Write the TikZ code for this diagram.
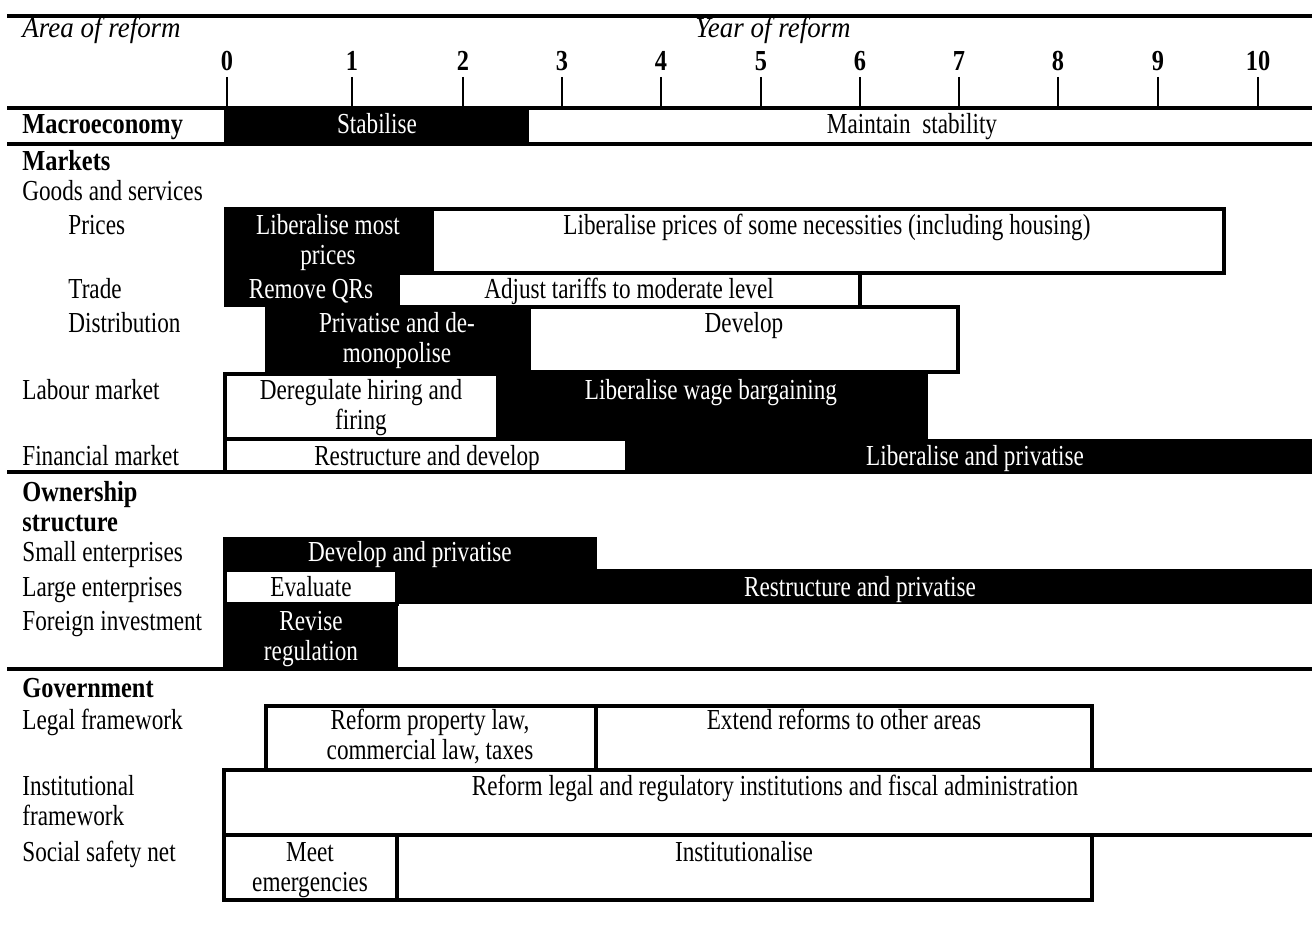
\documentclass[tikz,border=0pt]{standalone}
\usepackage{fontspec}
\setmainfont{Liberation Serif}[FakeStretch=0.8,
	BoldFeatures={FakeStretch=0.84}, ItalicFeatures={FakeStretch=0.93}]
\newcommand\cellfont{\fontsize{14.5}{15}\selectfont}
\begin{document}
\begin{tikzpicture}[x=0.5pt, y=-0.5pt, font={\cellfont}]
	\tikzstyle{rule} = [line width=2pt];
	\tikzstyle{tick} = [line width=1pt];
	\tikzstyle{dark} = [fill=black];
	\tikzstyle{light} = [draw, fill=white, line width=2pt];
	\tikzstyle{area} = [anchor=base west, inner sep=0pt, align=left];
	\tikzstyle{group} = [area, font={\cellfont\bfseries}];
	\tikzstyle{task} = [anchor=base, inner sep=0pt, align=center];
	\tikzstyle{inverse} = [task, text=white];

	\useasboundingbox (0,0) rectangle (1312,925);

	% bars of the time chart
	\foreach \xa/\ya/\xb/\yb in {224/108/529/144, 224/207/432/273, 224/273/398/307, 265/307/529/373,
		223/372/928/439, 627/439/1312/472, 223/537/597/570, 223/569/1312/604, 223/604/398/669} {
		\fill[dark] (\xa,\ya) rectangle (\xb,\yb);
	}
	\foreach \xa/\ya/\xb/\yb in {432/209/1224/273, 398/273/860/307, 529/307/958/372,
		225/374/498/439, 225/439/627/472, 225/570/397/604} {
		\draw[light] (\xa,\ya) rectangle (\xb,\yb);
	}
	\draw[light] (266,706) rectangle (1092,770);
	\draw[light] (596,706) -- (596,770);
	\draw[light, fill=none] (1312,770) -- (224,770) -- (224,835) -- (1312,835);
	\draw[light] (224,835) rectangle (1092,900);
	\draw[light] (397,835) -- (397,900);

	\foreach \yl in {16,108,144,472,669} {
		\draw[rule] (7,\yl) -- (1312,\yl);
	}

	% header
	\node[area, font={\cellfont\itshape}] (area) at (22,38) {Area of reform};
	\node[task, font={\cellfont\itshape}] (year) at (773,38) {Year of reform};
	\foreach \yr/\xp in {0/227,1/352,2/463,3/562,4/661,5/761,6/860,7/959,8/1058,9/1158,10/1258} {
		\node[task, font={\cellfont\bfseries}] (yr\yr) at (\xp,71) {\yr};
		\draw[tick] (\xp,77) -- (\xp,108);
	}

	% areas of reform (two-line nodes sit on their last line)
	\node[group] (macro) at (22,134) {Macroeconomy};
	\node[group] (markets) at (22,171) {Markets};
	\node[area] (goods) at (22,201) {Goods and services};
	\node[area] (prices) at (68,235) {Prices};
	\node[area] (trade) at (68,299) {Trade};
	\node[area] (distrib) at (68,333) {Distribution};
	\node[area] (labour) at (22,399) {Labour market};
	\node[area] (financial) at (22,465) {Financial market};
	\node[group] (owner) at (22,531) {Ownership\\structure};
	\node[area] (small) at (22,561) {Small enterprises};
	\node[area] (large) at (22,596) {Large enterprises};
	\node[area] (foreign) at (22,630) {Foreign investment};
	\node[group] (govt) at (22,697) {Government};
	\node[area] (legal) at (22,729) {Legal framework};
	\node[area] (instit) at (22,825) {Institutional\\framework};
	\node[area] (social) at (22,861) {Social safety net};

	% tasks
	\node[inverse] (stab) at (377,134) {Stabilise};
	\node[task] (maint) at (912,134) {Maintain~ stability};
	\node[inverse] (libmost) at (328,265) {Liberalise most\\prices};
	\node[task] (libsome) at (827,235) {Liberalise prices of some necessities (including housing)};
	\node[inverse] (qrs) at (311,299) {Remove QRs};
	\node[task] (tariffs) at (629,299) {Adjust tariffs to moderate level};
	\node[inverse] (demono) at (397,363) {Privatise and de-\\monopolise};
	\node[task] (develop) at (744,333) {Develop};
	\node[task] (dereg) at (361,429) {Deregulate hiring and\\firing};
	\node[inverse] (wage) at (711,399) {Liberalise wage bargaining};
	\node[task] (restdev) at (427,465) {Restructure and develop};
	\node[inverse] (libpriv) at (975,465) {Liberalise and privatise};
	\node[inverse] (devpriv) at (410,561) {Develop and privatise};
	\node[task] (evaluate) at (311,596) {Evaluate};
	\node[inverse] (restpriv) at (860,596) {Restructure and privatise};
	\node[inverse] (revise) at (311,660) {Revise\\regulation};
	\node[task] (proplaw) at (430,759) {Reform property law,\\commercial law, taxes};
	\node[task] (extend) at (844,729) {Extend reforms to other areas};
	\node[task] (reglaw) at (775,795) {Reform legal and regulatory institutions and fiscal administration};
	\node[task] (meet) at (310,891) {Meet\\emergencies};
	\node[task] (instl) at (744,861) {Institutionalise};
\end{tikzpicture}
\end{document}
